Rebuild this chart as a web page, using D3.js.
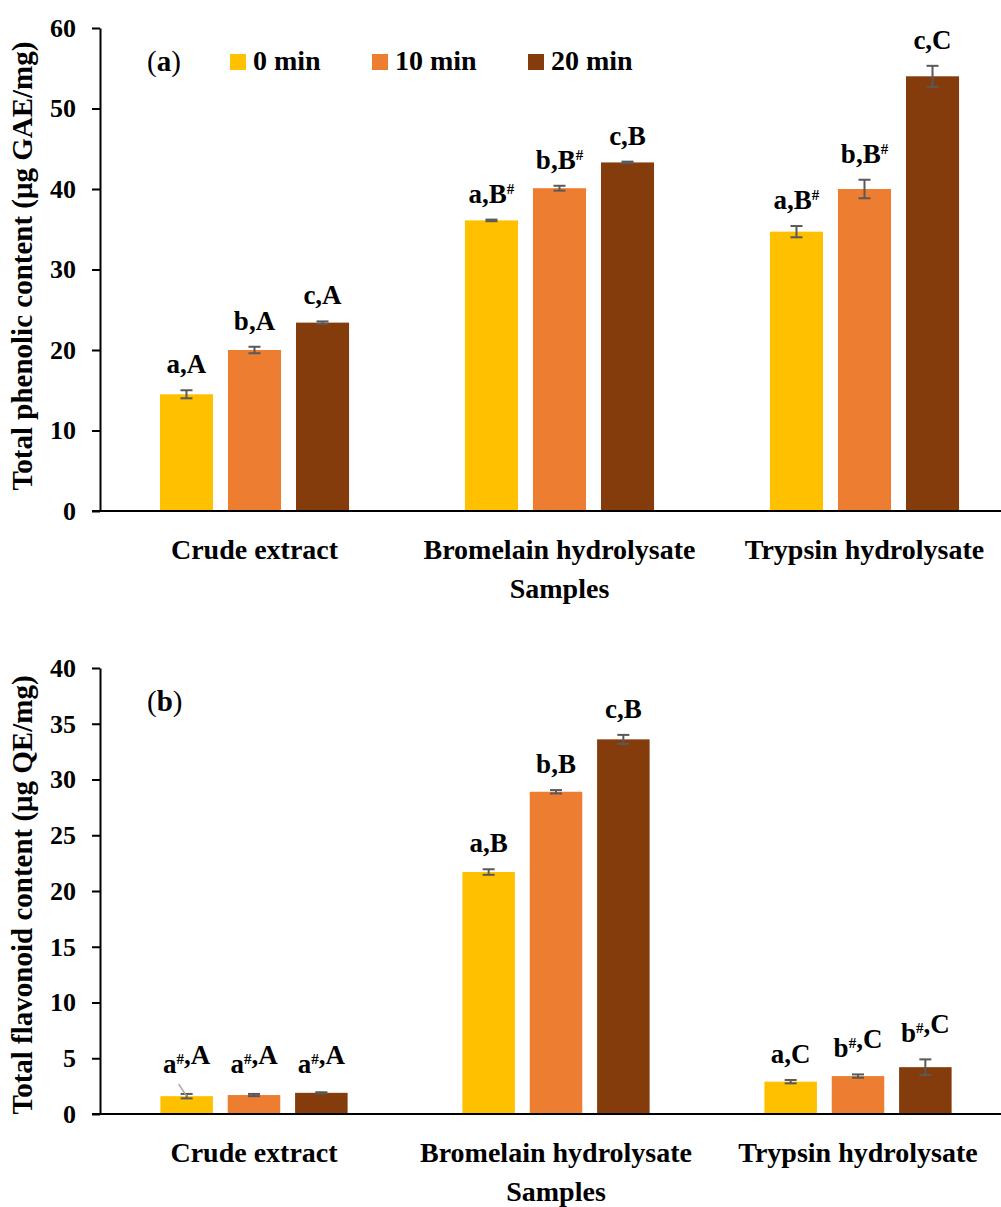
<!DOCTYPE html>
<html>
<head>
<meta charset="utf-8">
<script src="https://cdn.jsdelivr.net/npm/d3@7"></script>
<style>
  body { margin: 0; background: #fff; }
  svg text { font-family: "Liberation Serif", "Times New Roman", serif; font-weight: bold; fill: #000; }
</style>
</head>
<body>
<div id="chart"></div>
<script>
var samples = ["Crude extract", "Bromelain hydrolysate", "Trypsin hydrolysate"];
var times = ["0 min", "10 min", "20 min"];
var colors = ["#FFC000", "#ED7D31", "#843C0C"];

// (a) total phenolic content, ug GAE/mg
var phenolic0 = [14.5, 36.1, 34.7];
var phenolic10 = [20.0, 40.1, 40.0];
var phenolic20 = [23.4, 43.3, 54.0];
var phenolicErr0 = [0.5, 0.1, 0.7];
var phenolicErr10 = [0.4, 0.3, 1.15];
var phenolicErr20 = [0.15, 0.1, 1.3];
var phenolicLab0 = ["a,A", "a,B#", "a,B#"];
var phenolicLab10 = ["b,A", "b,B#", "b,B#"];
var phenolicLab20 = ["c,A", "c,B", "c,C"];

// (b) total flavonoid content, ug QE/mg
var flavonoid0 = [1.6, 21.7, 2.9];
var flavonoid10 = [1.7, 28.9, 3.4];
var flavonoid20 = [1.9, 33.6, 4.2];
var flavonoidErr0 = [0.2, 0.25, 0.15];
var flavonoidErr10 = [0.1, 0.15, 0.15];
var flavonoidErr20 = [0.05, 0.4, 0.7];
var flavonoidLab0 = ["a#,A", "a,B", "a,C"];
var flavonoidLab10 = ["a#,A", "b,B", "b#,C"];
var flavonoidLab20 = ["a#,A", "c,B", "b#,C"];

var phenolicTicks = [0, 10, 20, 30, 40, 50, 60];
var flavonoidTicks = [0, 5, 10, 15, 20, 25, 30, 35, 40];

var W = 1001, H = 1207;
var svg = d3.select("#chart").append("svg").attr("width", W).attr("height", H);

function rows(means, errs, labs) {
  var out = [];
  samples.forEach(function(s, i) {
    times.forEach(function(t, j) {
      out.push({sample: s, time: t, k: j, v: means[j][i], e: errs[j][i], lab: labs[j][i]});
    });
  });
  return out;
}

function addLabel(sel, str) {
  // '#' is drawn as a small superscript
  str.split(/(#)/).forEach(function(part) {
    if (part === "") return;
    if (part === "#") {
      sel.append("tspan").attr("font-size", "15px").attr("dy", -9).text("#");
      sel.append("tspan").attr("dy", 9).text("");
    } else {
      sel.append("tspan").text(part);
    }
  });
}

function panel(opt) {
  var g = svg.append("g");
  var x0 = d3.scaleBand().domain(samples).range(opt.xr).paddingInner(0.38).paddingOuter(0.19);
  var x1 = d3.scaleBand().domain(times).range([0, x0.bandwidth()]).paddingInner(0.22);
  var y = d3.scaleLinear().domain([0, opt.ymax]).range([opt.y0, opt.y1]);

  var yAxis = d3.axisLeft(y).tickValues(opt.ticks).tickSize(8).tickSizeOuter(0).tickPadding(16);
  var ya = g.append("g").attr("transform", "translate(100,0)").call(yAxis);
  ya.select(".domain").attr("stroke", "#000").attr("stroke-width", 2);
  ya.selectAll(".tick line").attr("stroke", "#000").attr("stroke-width", 2);
  ya.selectAll(".tick text").attr("font-size", "26px").style("font-family", "Liberation Serif").style("font-weight", "bold");

  var data = rows(opt.means, opt.errs, opt.labs);

  g.selectAll("rect.bar").data(data).enter().append("rect")
    .attr("class", "bar")
    .attr("x", function(d) { return x0(d.sample) + x1(d.time); })
    .attr("width", x1.bandwidth())
    .attr("y", function(d) { return y(d.v); })
    .attr("height", function(d) { return y(0) - y(d.v); })
    .attr("fill", function(d) { return colors[d.k]; });

  // error bars
  var eb = g.selectAll("g.err").data(data).enter().append("g").attr("class", "err")
    .attr("stroke", "#595959").attr("stroke-width", 2);
  function cx(d) { return x0(d.sample) + x1(d.time) + x1.bandwidth() / 2; }
  eb.append("line").attr("x1", cx).attr("x2", cx)
    .attr("y1", function(d) { return y(d.v + d.e); })
    .attr("y2", function(d) { return y(d.v - d.e); });
  eb.append("line").attr("x1", function(d) { return cx(d) - 6; }).attr("x2", function(d) { return cx(d) + 6; })
    .attr("y1", function(d) { return y(d.v + d.e); }).attr("y2", function(d) { return y(d.v + d.e); });
  eb.append("line").attr("x1", function(d) { return cx(d) - 6; }).attr("x2", function(d) { return cx(d) + 6; })
    .attr("y1", function(d) { return y(d.v - d.e); }).attr("y2", function(d) { return y(d.v - d.e); });

  // letters above bars
  g.selectAll("text.lab").data(data).enter().append("text")
    .attr("class", "lab")
    .attr("text-anchor", "middle")
    .attr("font-size", "27px")
    .attr("x", cx)
    .attr("y", function(d) { return Math.min(y(d.v + d.e), opt.labelFloor) - 17; })
    .each(function(d) { addLabel(d3.select(this), d.lab); });

  // x axis line
  g.append("line").attr("x1", 92).attr("x2", W).attr("y1", y(0)).attr("y2", y(0))
    .attr("stroke", "#000").attr("stroke-width", 2);

  g.selectAll("text.cat").data(samples).enter().append("text")
    .attr("class", "cat")
    .attr("text-anchor", "middle")
    .attr("font-size", "28px")
    .attr("x", function(d) { return x0(d) + x0.bandwidth() / 2; })
    .attr("y", y(0) + 48)
    .text(function(d) { return d; });

  g.append("text").attr("text-anchor", "middle").attr("font-size", "28px")
    .attr("x", x0(samples[1]) + x0.bandwidth() / 2).attr("y", y(0) + 87).text("Samples");

  g.append("text").attr("text-anchor", "middle").attr("font-size", "29px")
    .attr("transform", "translate(32," + opt.titleY + ") rotate(-90)")
    .text(opt.title);

  var tag = g.append("text").attr("font-size", "29px").attr("x", 147).attr("y", opt.y1 + 43);
  tag.append("tspan").style("font-weight", "normal").text("(");
  tag.append("tspan").text(opt.tag);
  tag.append("tspan").style("font-weight", "normal").text(")");

  return {x0: x0, x1: x1, y: y, g: g};
}

var pa = panel({
  xr: [102, 1017], y0: 511, y1: 28, ymax: 60, ticks: phenolicTicks,
  means: [phenolic0, phenolic10, phenolic20],
  errs: [phenolicErr0, phenolicErr10, phenolicErr20],
  labs: [phenolicLab0, phenolicLab10, phenolicLab20],
  labelFloor: 1e9, titleY: 266,
  title: "Total phenolic content (\u03bcg GAE/mg)", tag: "a"
});

var pb = panel({
  xr: [103, 1009], y0: 1114, y1: 668, ymax: 40, ticks: flavonoidTicks,
  means: [flavonoid0, flavonoid10, flavonoid20],
  errs: [flavonoidErr0, flavonoidErr10, flavonoidErr20],
  labs: [flavonoidLab0, flavonoidLab10, flavonoidLab20],
  labelFloor: 1090, titleY: 895,
  title: "Total flavonoid content (\u03bcg QE/mg)", tag: "b"
});

// leader line from the first crude-extract label to its bar
var bx = pb.x0(samples[0]) + pb.x1(times[0]) + pb.x1.bandwidth() / 2;
pb.g.append("line").attr("x1", bx - 8).attr("y1", pb.y(flavonoid0[0]) - 12)
  .attr("x2", bx).attr("y2", pb.y(flavonoid0[0]))
  .attr("stroke", "#a6a6a6").attr("stroke-width", 1.5);

// legend
var leg = svg.append("g");
var legX = [230, 372, 528];
times.forEach(function(t, i) {
  leg.append("rect").attr("x", legX[i]).attr("y", 54).attr("width", 16).attr("height", 16).attr("fill", colors[i]);
  leg.append("text").attr("x", legX[i] + 23).attr("y", 70).attr("font-size", "28px").text(t);
});
</script>
</body>
</html>
